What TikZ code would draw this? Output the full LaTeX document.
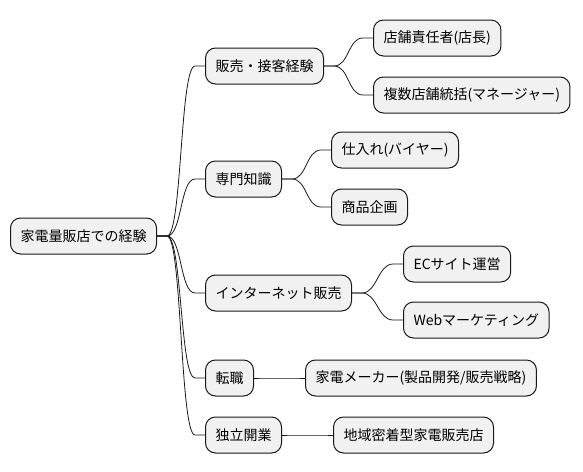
\documentclass[tikz,border=0pt]{standalone}
\usepackage{fontspec}
\setmainfont{Noto Sans CJK JP}
\definecolor{boxfill}{HTML}{F1F1F1}
\definecolor{boxline}{HTML}{181818}
\tikzset{
  topic/.style={draw=boxline,fill=boxfill,line width=1pt,rounded corners=10pt,
    anchor=west,inner xsep=10pt,inner ysep=0pt,minimum height=36pt},
  branch/.style={draw=boxline,line width=0.8pt}
}
\begin{document}
\begin{tikzpicture}[x=1pt,y=-1pt,font=\fontsize{14}{16}\selectfont]
  \useasboundingbox (0,0) rectangle (583,471);
  % root and first level
  \node[topic] (root) at (10,236) {家電量販店での経験};
  \node[topic] (sales) at (205,66) {販売・接客経験};
  \node[topic] (know) at (205,179) {専門知識};
  \node[topic] (net) at (205,293) {インターネット販売};
  \node[topic] (job) at (205,378) {転職};
  \node[topic] (own) at (205,435) {独立開業};
  % second level
  \node[topic] (store) at (373,38) {店舗責任者(店長)};
  \node[topic] (multi) at (373,95) {複数店舗統括(マネージャー)};
  \node[topic] (buyer) at (331,150) {仕入れ(バイヤー)};
  \node[topic] (plan) at (331,207) {商品企画};
  \node[topic] (ec) at (403,264) {ECサイト運営};
  \node[topic] (web) at (403,320) {Webマーケティング};
  \node[topic] (maker) at (305,378) {家電メーカー(製品開発/販売戦略)};
  \node[topic] (local) at (333,435) {地域密着型家電販売店};
  % connectors
  \foreach \p/\c in {root/sales,root/know,root/net,root/job,root/own,
      sales/store,sales/multi,know/buyer,know/plan,net/ec,net/web,
      job/maker,own/local}
    \draw[branch] (\p.east) -- ([xshift=10pt]\p.east)
      .. controls +(15,0) and +(-15,0) .. ([xshift=-10pt]\c.west) -- (\c.west);
\end{tikzpicture}
\end{document}
